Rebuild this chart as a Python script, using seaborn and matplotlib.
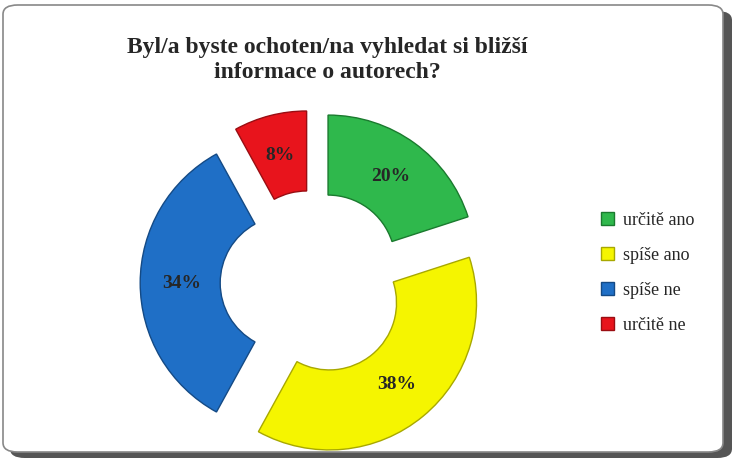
import matplotlib
matplotlib.use("Agg")
import matplotlib.pyplot as plt
import seaborn as sns
from matplotlib.patches import FancyBboxPatch, Patch

sns.set_theme(style="white")

categories = ["určitě ano", "spíše ano", "spíše ne", "určitě ne"]
values = [20, 38, 34, 8]
colors = ["#2fb84c", "#f5f500", "#1f6fc6", "#e8141c"]
edges = ["#1a7a2e", "#a8a800", "#144a85", "#9a0d12"]
title = "Byl/a byste ochoten/na vyhledat si bližší\ninformace o autorech?"

fig = plt.figure(figsize=(7.35, 4.62), dpi=100)
fig.patch.set_facecolor("white")
fig.patches.append(FancyBboxPatch((10/735, 4/462), 722/735, 447/462,
    boxstyle="round,pad=0,rounding_size=0.02", transform=fig.transFigure,
    facecolor="#555555", edgecolor="none", zorder=0))
fig.patches.append(FancyBboxPatch((3/735, 10/462), 720/735, 447/462,
    boxstyle="round,pad=0,rounding_size=0.02", transform=fig.transFigure,
    facecolor="white", edgecolor="#888888", lw=1.2, zorder=1))

fig.text(0.445, 0.87, title, ha="center", va="center", fontsize=17,
         fontweight="bold", family="Liberation Serif", zorder=3, linespacing=1.25)

ax = fig.add_axes([113/735, -21/462, 400/735, 400/462])
ax.set_zorder(2)
wedges, texts = ax.pie(values, colors=colors, startangle=90, counterclock=False,
    explode=[0.16]*4, radius=0.92,
    wedgeprops=dict(width=0.5, linewidth=1),
    labels=[f"{v}%" for v in values], labeldistance=0.72,
    textprops=dict(fontsize=14, fontweight="bold", family="Liberation Serif",
                   ha="center", va="center"))
for w, e in zip(wedges, edges):
    w.set_edgecolor(e)
ax.set_xlim(-1.25, 1.25)
ax.set_ylim(-1.25, 1.25)
ax.set_aspect("equal")
ax.axis("off")

handles = [Patch(facecolor=c, edgecolor=e) for c, e in zip(colors, edges)]
leg = fig.legend(handles, categories, loc="center left",
    bbox_to_anchor=(585/735, 1 - 273/462), frameon=False,
    prop=dict(family="Liberation Serif", size=13), labelspacing=1.0,
    handlelength=0.7, handleheight=0.7, handletextpad=0.5)
fig.savefig("out.png", dpi=100)
